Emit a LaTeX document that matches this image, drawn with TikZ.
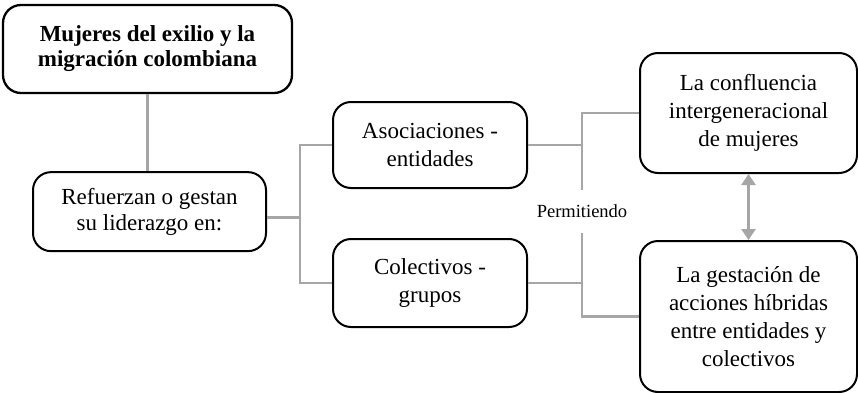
\documentclass[tikz,border=0pt]{standalone}
\usepackage{fontspec}
\setmainfont{Liberation Serif}
\usetikzlibrary{arrows.meta,positioning,calc}
\definecolor{lineagris}{RGB}{166,166,166}

\begin{document}
\begin{tikzpicture}[x=1pt, y=1pt,
    caja/.style={draw, rectangle, rounded corners=18pt, line width=2pt, align=center, inner sep=0pt, font=\fontsize{23}{28}\selectfont},
    linea/.style={draw=lineagris, line width=2.6pt},
    flecha/.style={draw=lineagris, line width=2.6pt, {Triangle[length=11pt,width=14pt,fill=lineagris]}-{Triangle[length=11pt,width=14pt,fill=lineagris]}}]
    \useasboundingbox (0,0) rectangle (858,392);

    \node[caja, minimum width=289pt, minimum height=88pt, line width=2.3pt, font=\bfseries\fontsize{23}{25}\selectfont] (mujeres) at (147.5,343) {Mujeres del exilio y la\\migración colombiana};
    \node[caja, minimum width=233pt, minimum height=79pt, font=\fontsize{23}{26}\selectfont, below=77pt of mujeres, xshift=2pt] (ref) {Refuerzan o gestan\\su liderazgo en:};
    \node[caja, minimum width=194pt, minimum height=86pt] (asoc) at (430,247) {Asociaciones -\\entidades};
    \node[caja, minimum width=194pt, minimum height=88pt, below=49pt of asoc] (colec) {Colectivos -\\grupos};
    \node[caja, minimum width=217pt, minimum height=120pt] (confl) at (748.5,279) {La confluencia\\intergeneracional\\de mujeres};
    \node[caja, minimum width=217pt, minimum height=151pt, below=66pt of confl] (gest) {La gestación de\\acciones híbridas\\entre entidades y\\colectivos};
    \node[inner sep=0pt, minimum height=43pt, font=\fontsize{18.5}{21}\selectfont] (permit) at (582,180.5) {Permitiendo};
    \coordinate (lj) at (300,0);

    % conectores
    \draw[linea] (mujeres.south) -- (mujeres.south |- ref.north);
    \draw[linea] ([yshift=-6pt]ref.east) -- ([yshift=-6pt]ref.east -| lj);
    \draw[linea] (asoc.west) -- (asoc.west -| lj) -- (colec.west -| lj) -- (colec.west);
    \draw[linea] (asoc.east) -- (asoc.east -| permit.north);
    \draw[linea] (colec.east) -- (colec.east -| permit.south);
    \draw[linea] (confl.west) -| (permit.north);
    \draw[linea] (permit.south) |- (gest.west);
    \draw[flecha] (confl.south) -- (gest.north);
\end{tikzpicture}
\end{document}
